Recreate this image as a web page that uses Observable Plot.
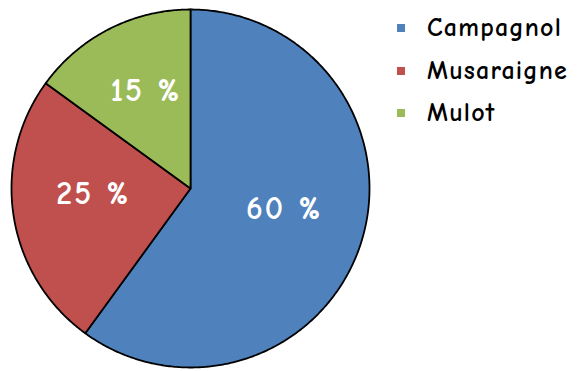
<!DOCTYPE html>
<html>
<head>
<meta charset="utf-8">
<script src="https://cdn.jsdelivr.net/npm/d3@7"></script>
<script src="https://cdn.jsdelivr.net/npm/@observablehq/plot@0.6"></script>
<style>
  html, body { margin: 0; padding: 0; background: #fff; }
  #wrap { position: relative; width: 577px; height: 371px; overflow: hidden; }
  .leg { position: absolute; left: 397px; font-family: "Comic Sans MS", "Comic Neue", "DejaVu Sans", sans-serif; font-size: 26px; font-weight: bold; letter-spacing: 1.2px; color: #000; white-space: nowrap; line-height: 30px; }
  .leg .sw { display: inline-block; width: 8px; height: 8px; margin-right: 22px; vertical-align: middle; position: relative; top: -2px; }
</style>
</head>
<body>
<div id="wrap"></div>
<script>
const categories = ["Campagnol", "Musaraigne", "Mulot"];
const values = [60, 25, 15];
const labels = ["60 %", "25 %", "15 %"];
const colors = ["#4F81BD", "#C0504D", "#9BBB59"];

const data = categories.map((name, i) => ({name, value: values[i], label: labels[i]}));
const arcs = d3.pie().sort(null).value(d => d.value)(data);

// polygon points for each slice (unit circle, angle 0 at top, clockwise)
const pts = [];
for (const a of arcs) {
  const n = Math.max(2, Math.ceil((a.endAngle - a.startAngle) / 0.01));
  pts.push({name: a.data.name, x: 0, y: 0});
  for (let k = 0; k <= n; k++) {
    const t = a.startAngle + (a.endAngle - a.startAngle) * k / n;
    pts.push({name: a.data.name, x: Math.sin(t), y: Math.cos(t)});
  }
  pts.push({name: a.data.name, x: 0, y: 0});
}
const labelPts = arcs.map(a => {
  const m = (a.startAngle + a.endAngle) / 2;
  const r = 0.55;
  return {label: a.data.label, x: r * Math.sin(m), y: r * Math.cos(m)};
});

const chart = Plot.plot({
  width: 577,
  height: 371,
  marginLeft: 11,
  marginRight: 208,
  marginTop: 9,
  marginBottom: 4,
  x: {domain: [-1, 1], axis: null},
  y: {domain: [-1, 1], axis: null},
  color: {domain: categories, range: colors},
  marks: [
    Plot.line(pts, {x: "x", y: "y", z: "name", fill: "name", stroke: "#000", strokeWidth: 1.8, strokeLinejoin: "round", curve: "linear"}),
    Plot.text(labelPts, {x: "x", y: "y", dy: -10, text: "label", fill: "#fff", fontSize: 32, fontWeight: "bold", fontFamily: "'Comic Sans MS', 'Comic Neue', 'DejaVu Sans', sans-serif"})
  ]
});
chart.querySelectorAll("text").forEach(t => t.setAttribute("letter-spacing", "2"));
const wrap = document.getElementById("wrap");
wrap.appendChild(chart);

const tops = [13, 56, 98];
categories.forEach((c, i) => {
  const d = document.createElement("div");
  d.className = "leg";
  d.style.top = tops[i] + "px";
  const sw = document.createElement("span");
  sw.className = "sw";
  sw.style.background = colors[i];
  d.appendChild(sw);
  d.appendChild(document.createTextNode(c));
  wrap.appendChild(d);
});
</script>
</body>
</html>
